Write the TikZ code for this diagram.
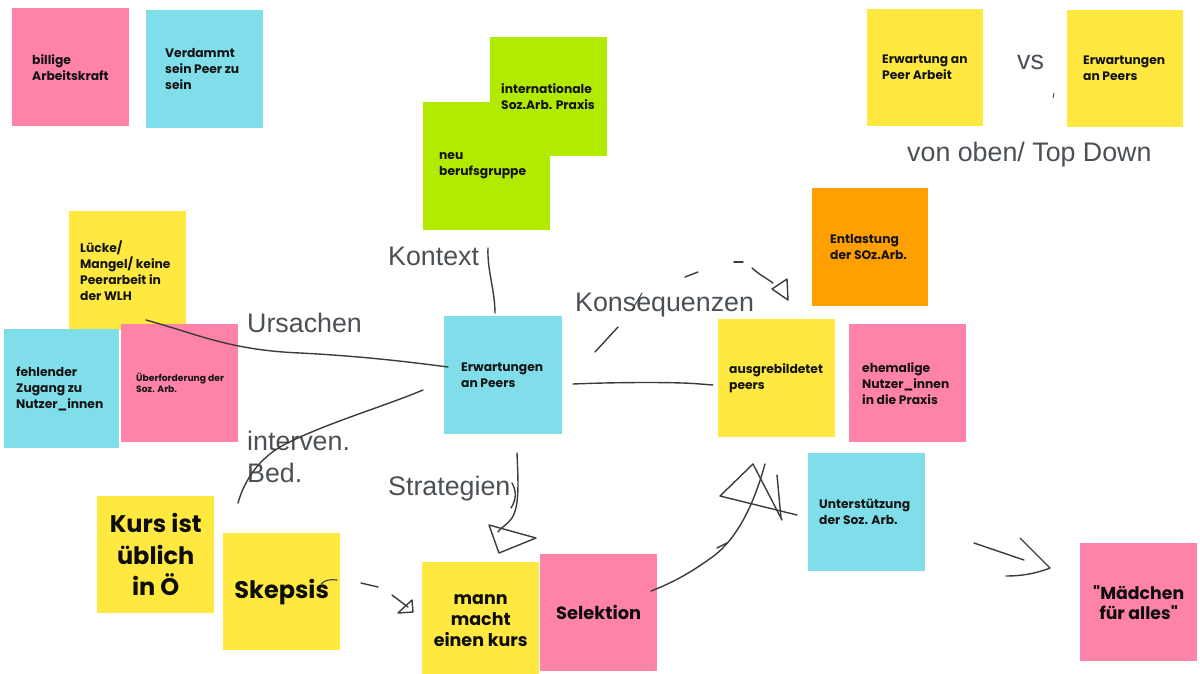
\documentclass[tikz,border=0pt]{standalone}
\usepackage{fontspec}
\setmainfont{Poppins}[Ligatures=TeXOff]
\newfontfamily\lblfont{Liberation Sans}
\usetikzlibrary{calc}
\definecolor{spink}{HTML}{FF82A9}
\definecolor{scyan}{HTML}{80DEEA}
\definecolor{syellow}{HTML}{FFE83F}
\definecolor{sgreen}{HTML}{B3EB00}
\definecolor{sorange}{HTML}{FFA000}
\definecolor{lblgray}{HTML}{4B5055}
\definecolor{pengray}{HTML}{3C3C3C}
\begin{document}
\begin{tikzpicture}[x=1pt,y=-1pt,
  note/.style={draw=none, minimum width=117pt, minimum height=118pt, inner sep=0pt, anchor=north west},
  ntext/.style={anchor=west, align=left, inner sep=0pt, font=\bfseries\fontsize{12.3}{16}\selectfont, text=black!92},
  btext/.style={anchor=center, align=center, inner sep=0pt, text=black!95},
  lbl/.style={font=\lblfont\fontsize{26.8}{30}\selectfont, text=lblgray, inner sep=0pt, anchor=base west},
  pen/.style={draw=pengray, line width=1.4pt, line cap=round, line join=round}]
\path[use as bounding box, fill=white] (0,0) rectangle (1200,673);
\begin{scope}
\clip (0,0) rectangle (1200,673);
% top left
\node[note, fill=spink] (billige) at (12,8) {};
\node[ntext] (billigeT) at ($(billige.west)+(20,0)$) {billige\\Arbeitskraft};
\node[note, fill=scyan] (verd) at (146,10) {};
\node[ntext] (verdT) at ($(verd.west)+(19,0)$) {Verdammt\\sein Peer zu\\sein};
% context notes
\node[note, fill=sgreen, minimum width=127pt, minimum height=128pt] (neu) at (423,102) {};
\node[ntext] (neuT) at ($(neu.west)+(16,0)$) {neu\\berufsgruppe};
\node[note, fill=sgreen, minimum height=119pt] (intl) at (490,37) {};
\node[ntext] (intlT) at ($(intl.west)+(11,0)$) {internationale\\Soz.Arb. Praxis};
% top right
\node[note, fill=syellow, minimum width=116pt, minimum height=117pt] (erw1) at (867,9) {};
\node[ntext] (erw1T) at ($(erw1.west)+(15,0)$) {Erwartung an\\Peer Arbeit};
\node[note, fill=syellow, minimum width=116pt, minimum height=117pt] (erw2) at (1067,10) {};
\node[ntext] (erw2T) at ($(erw2.west)+(16,0)$) {Erwartungen\\an Peers};
\node[lbl] (vs) at (1017,69) {vs};
\node[lbl] (topdown) at (907,161) {von oben/ Top Down};
\draw[pen, line width=0.8pt] (1054,93) -- (1053,98);
% causes
\node[note, fill=syellow, minimum height=119pt] (lucke) at (69,211) {};
\node[ntext] (luckeT) at ($(lucke.west)+(11,0)$) {Lücke/\\Mangel/ keine\\Peerarbeit in\\der WLH};
\node[note, fill=scyan, minimum width=115pt, minimum height=119pt] (fehl) at (4,329) {};
\node[ntext] (fehlT) at ($(fehl.west)+(12,0)$) {fehlender\\Zugang zu\\Nutzer\_innen};
\node[note, fill=spink] (ueber) at (121,324) {};
\node[ntext, font=\bfseries\fontsize{9.2}{11}\selectfont] (ueberT) at ($(ueber.west)+(15,0)$) {Überforderung der\\Soz. Arb.};
% centre
\node[note, fill=scyan, minimum width=118pt] (erwC) at (444,316) {};
\node[ntext] (erwCT) at ($(erwC.west)+(17,0)$) {Erwartungen\\an Peers};
% consequences
\node[note, fill=syellow] (ausg) at (718,319) {};
\node[ntext] (ausgT) at ($(ausg.west)+(11,0)$) {ausgrebildetet\\peers};
\node[note, fill=sorange, minimum width=116pt] (entl) at (812,188) {};
\node[ntext] (entlT) at ($(entl.west)+(18,0)$) {Entlastung\\der SOz.Arb.};
\node[note, fill=spink] (ehem) at (849,324) {};
\node[ntext] (ehemT) at ($(ehem.west)+(13,0)$) {ehemalige\\Nutzer\_innen\\in die Praxis};
\node[note, fill=scyan] (unter) at (808,453) {};
\node[ntext] (unterT) at ($(unter.west)+(11,0)$) {Unterstützung\\der Soz. Arb.};
\node[note, fill=spink] (maed) at (1080,543) {};
\node[btext, font=\bfseries\fontsize{17.3}{20}\selectfont] (maedT) at (maed.center) {"Mädchen\\für alles"};
% bottom left
\node[note, fill=syellow, minimum height=117pt] (kurs) at (97,496) {};
\node[btext, font=\bfseries\fontsize{24}{31.5}\selectfont] (kursT) at (kurs.center) {Kurs ist\\üblich\\in Ö};
\node[note, fill=syellow, minimum height=117pt] (skep) at (223,533) {};
\node[btext, font=\bfseries\fontsize{24}{26}\selectfont] (skepT) at (skep.center) {Skepsis};
\node[note, fill=syellow, minimum height=117pt] (mann) at (422,562) {};
\node[btext, font=\bfseries\fontsize{17.5}{21}\selectfont] (mannT) at (mann.center) {mann\\macht\\einen kurs};
\node[note, fill=spink, minimum height=117pt] (selek) at (540,554) {};
\node[btext, font=\bfseries\fontsize{17.8}{20}\selectfont] (selekT) at (selek.center) {Selektion};
\end{scope}
% labels
\node[lbl] (kontext) at (388,265) {Kontext};
\node[lbl] (ursachen) at (247,332) {Ursachen};
\node[lbl] (konseq) at (575,311) {Konsequenzen};
\node[lbl] (interv) at (247,450) {interven.};
\node[lbl] (bed) at (247,482) {Bed.};
\node[lbl] (strat) at (388,495) {Strategien};
% connectors (hand drawn)
\coordinate (uA) at (146,320);
\coordinate (uB) at (448,367);
\draw[pen] (uA) .. controls (200,335) and (230,350) .. (300,353) .. controls (360,356) and (410,362) .. (uB);
\coordinate (iA) at (423,390);
\coordinate (iB) at (238,503);
\draw[pen] (iA) .. controls (380,408) and (320,425) .. (280,447) .. controls (255,462) and (243,485) .. (iB);
\coordinate (kA) at (488,248);
\coordinate (kB) at (495,313);
\draw[pen] (kA) .. controls (487,270) and (495,290) .. (kB);
\coordinate (sA) at (517,453);
\draw[pen] (sA) .. controls (518,480) and (520,505) .. (512,518) .. controls (506,526) and (500,528) .. (498,532);
\draw[pen] (512,483) .. controls (517,492) and (516,500) .. (511,508);
\draw[pen] (489,525) -- (536,538) -- (499,553) -- cycle;
\coordinate (mA) at (573,384);
\coordinate (mB) at (713,385);
\draw[pen] (mA) .. controls (620,382) and (680,382) .. (700,384) -- (mB);
\draw[pen] (595,352) -- (618,327);
\draw[pen, line width=1pt] (632,310) -- (642,293);
\draw[pen] (685,277) -- (698,272);
\draw[pen] (734,262) -- (743,262);
\draw[pen] (752,268) .. controls (760,275) and (766,278) .. (773,283);
\draw[pen] (772,289) -- (787,279) -- (788,300) -- cycle;
\draw[pen, line width=1.1pt] (321,584) .. controls (325,580) and (330,579) .. (337,580);
\draw[pen] (361,583) -- (378,587);
\draw[pen] (392,595) -- (408,607);
\draw[pen] (398,613) -- (412,600) -- (413,612) -- cycle;
\coordinate (seA) at (651,591);
\coordinate (seB) at (765,464);
\draw[pen] (seA) .. controls (680,580) and (700,566) .. (715,555) .. controls (740,535) and (755,500) .. (seB);
\draw[pen] (753,464) -- (720,496) -- (797,515);
\draw[pen] (753,464) -- (782,520);
\draw[pen] (777,475) -- (781,518);
\draw[pen] (717,548) -- (727,543);
\coordinate (dA) at (974,543);
\draw[pen] (dA) -- (1024,560);
\draw[pen] (1020,538) -- (1050,568) .. controls (1035,574) and (1020,576) .. (1006,576);
\end{tikzpicture}
\end{document}
